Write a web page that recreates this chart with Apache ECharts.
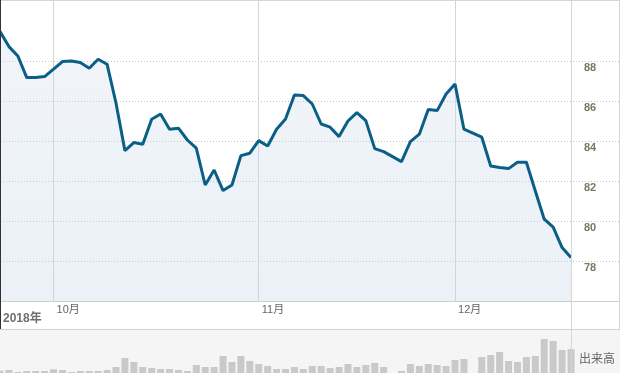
<!DOCTYPE html>
<html>
<head>
<meta charset="utf-8">
<script src="https://cdn.jsdelivr.net/npm/echarts@6/dist/echarts.min.js"></script>
<style>
html,body{margin:0;padding:0;background:#fff;}
#chart{width:620px;height:373px;}
</style>
</head>
<body>
<div id="chart"></div>
<script>
// ---- data ----
const priceValues = [
  89.47, 88.72, 88.25, 87.17, 87.17, 87.22, 87.59, 87.97, 88.00, 87.92,
  87.64, 88.09, 87.84, 85.90, 83.52, 83.92, 83.84, 85.09, 85.35, 84.59,
  84.64, 84.05, 83.64, 81.80, 82.55, 81.52, 81.80, 83.27, 83.39, 84.02,
  83.75, 84.59, 85.10, 86.30, 86.27, 85.85, 84.85, 84.69, 84.22, 85.00,
  85.42, 85.02, 83.62, 83.47, 83.22, 82.97, 83.97, 84.34, 85.57, 85.52,
  86.35, 86.85, 84.59, 84.39, 84.19, 82.75, 82.67, 82.62, 82.94, 82.94,
  81.50, 80.09, 79.69, 78.67, 78.17
];
const volumeValues = [
  2.3, 3, 1, 2, 2, 2, 3.7, 3, 1, 2,
  2, 2, 3, 6, 15, 11, 6, 5, 4, 4,
  3, 2, 8, 6, 6, 17, 11, 17, 12, 9,
  7, 4, 4, 6, 4, 7, 7, 5, 6, 9,
  6, 8, 10, 6, 0, 2, 9, 7, 9, 8,
  7, 13, 14, 0, 16, 18, 21, 12, 11, 16,
  17, 34, 32, 23, 24
];
const monthLabels = ['10月', '11月', '12月'];
const monthStartIdx = [6, 29, 51];
const yTickValues = [78, 80, 82, 84, 86, 88];
const yearLabel = '2018年';
const volumeLabel = '出来高';

const categories = priceValues.map((_, i) => {
  const k = monthStartIdx.indexOf(i);
  return k >= 0 ? monthLabels[k] : String(i);
});
const isMonthStart = (i) => monthStartIdx.indexOf(i) >= 0;

const chart = echarts.init(document.getElementById('chart'), null, {renderer: 'canvas'});
const FONT = "'Liberation Sans', 'Noto Sans CJK JP', sans-serif";

chart.setOption({
  animation: false,
  backgroundColor: '#ffffff',
  grid: [
    {left: 0, top: 1, width: 571, height: 300},
    {left: 0, top: 329, width: 571, height: 44},
    {left: 0, top: 61, width: 619, height: 200}
  ],
  xAxis: [
    {
      type: 'category', gridIndex: 0, data: categories, boundaryGap: false,
      axisLine: {show: false}, axisTick: {show: false},
      axisLabel: {
        interval: (i) => isMonthStart(i), align: 'left', margin: 3,
        padding: [0, 0, 0, 3], color: '#666', fontSize: 11, fontFamily: FONT
      },
      splitLine: {show: true, interval: (i) => isMonthStart(i), lineStyle: {color: '#d4d4d4', width: 1}}
    },
    {
      type: 'category', gridIndex: 1, data: categories, boundaryGap: false,
      axisLine: {show: false}, axisTick: {show: false}, axisLabel: {show: false}, splitLine: {show: false}
    },
    {type: 'value', gridIndex: 2, min: 0, max: 1, show: false}
  ],
  yAxis: [
    {
      type: 'value', gridIndex: 0, position: 'right', min: 76, max: 91, interval: 2,
      axisLine: {show: false}, axisTick: {show: false}, splitLine: {show: false},
      axisLabel: {
        formatter: (v) => yTickValues.indexOf(v) >= 0 ? String(v) : '',
        margin: 13, align: 'left', verticalAlign: 'top', padding: [1, 0, 0, 0],
        color: '#7b7762', fontSize: 11, fontWeight: 'bold', fontFamily: FONT
      }
    },
    {type: 'value', gridIndex: 1, min: 0, max: 44, show: false},
    {
      type: 'value', gridIndex: 2, min: 78, max: 88, interval: 2,
      axisLine: {show: false}, axisTick: {show: false}, axisLabel: {show: false},
      splitLine: {show: true, lineStyle: {color: '#c4c4c4', width: 1, type: [1, 2]}}
    }
  ],
  series: [
    {
      type: 'line', xAxisIndex: 0, yAxisIndex: 0, data: priceValues,
      showSymbol: false, z: 3,
      lineStyle: {color: '#0b5f87', width: 3},
      areaStyle: {
        color: new echarts.graphic.LinearGradient(0, 0, 0, 1, [
          {offset: 0, color: 'rgba(212,224,238,0.48)'},
          {offset: 1, color: 'rgba(200,215,233,0.5)'}
        ])
      }
    },
    {
      type: 'bar', xAxisIndex: 1, yAxisIndex: 1, data: volumeValues,
      barWidth: 7, itemStyle: {color: '#c9c9c9'}, z: 2
    }
  ],
  graphic: [
    {type: 'rect', z: -10, silent: true, shape: {x: 0, y: 329, width: 620, height: 44}, style: {fill: '#f5f5f5'}},
    {type: 'line', z: 10, silent: true, shape: {x1: 0, y1: 0.5, x2: 620, y2: 0.5}, style: {stroke: '#d6d6d6', lineWidth: 1}},
    {type: 'line', z: 10, silent: true, shape: {x1: 0, y1: 301.5, x2: 620, y2: 301.5}, style: {stroke: '#cfcfcf', lineWidth: 1}},
    {type: 'line', z: 10, silent: true, shape: {x1: 0, y1: 329.5, x2: 620, y2: 329.5}, style: {stroke: '#d2d2d2', lineWidth: 1}},
    {type: 'line', z: 10, silent: true, shape: {x1: 619.5, y1: 0, x2: 619.5, y2: 329}, style: {stroke: '#d6d6d6', lineWidth: 1}},
    {type: 'line', z: 10, silent: true, shape: {x1: 571.5, y1: 0, x2: 571.5, y2: 373}, style: {stroke: '#d6d6d6', lineWidth: 1}},
    {type: 'line', z: 10, silent: true, shape: {x1: 0.5, y1: 0, x2: 0.5, y2: 329}, style: {stroke: '#333333', lineWidth: 1}},
    {type: 'text', z: 10, silent: true, left: 3, top: 313,
      style: {text: yearLabel, fill: '#6f6f6f', font: 'bold 12px ' + FONT}},
    {type: 'text', z: 10, silent: true, left: 579, top: 354,
      style: {text: volumeLabel, fill: '#666666', font: '12px ' + FONT}}
  ]
});
</script>
</body>
</html>
